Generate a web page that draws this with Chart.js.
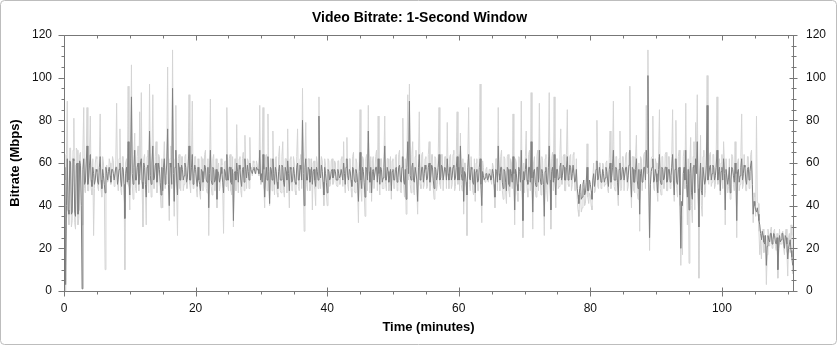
<!DOCTYPE html>
<html><head><meta charset="utf-8">
<script src="https://cdn.jsdelivr.net/npm/chart.js@4.4.1/dist/chart.umd.min.js"></script>
<style>html,body{margin:0;padding:0;background:#fff;}canvas{display:block;}</style>
</head><body>
<canvas id="c" width="839" height="347"></canvas>
<script>
const chartTitle = 'Video Bitrate: 1-Second Window';
const xAxisTitle = 'Time (minutes)';
const yAxisTitle = 'Bitrate (Mbps)';
const sampleStepMinutes = 0.25;
const xMajorTicks = [0, 20, 40, 60, 80, 100];
const yMajorTicks = [0, 20, 40, 60, 80, 100, 120];
const minorTickStep = 5;

// darker trace (Mbps), samples at t = 0, 0.25, 0.5 ... min
const darkRate = [
  52,3,62,36,60,37,61,35,60,38,59,1,62,51,68,53,64,49,55,52,
  56,50,63,48,54,46,55,56,54,57,55,52,58,53,60,49,57,34,58,70,
  45,91,50,66,52,60,55,62,48,58,44,59,75,50,68,53,60,55,57,45,
  47,62,54,76,40,58,95,42,66,45,58,52,57,54,58,53,68,52,64,55,
  57,49,52,47,56,53,58,51,39,66,50,57,52,43,55,53,55,46,56,64,
  52,58,50,33,56,60,51,57,49,58,62,53,56,60,56,57,56,58,57,66,
  55,64,44,58,63,41,57,62,50,56,48,59,52,58,49,56,61,47,57,52,
  55,50,60,52,57,80,40,62,52,57,54,50,57,49,56,82,53,56,45,55,
  46,56,53,57,54,56,52,55,54,57,60,50,62,52,56,49,57,51,55,42,
  65,48,56,44,57,75,51,46,57,52,58,62,50,57,53,68,52,56,54,47,
  57,52,58,53,59,51,63,50,43,70,89,52,60,51,58,42,64,53,58,55,
  57,53,60,54,58,48,57,54,64,53,58,52,57,62,52,58,54,59,53,63,
  58,68,52,42,55,45,64,52,57,50,46,57,52,62,40,54,53,55,53,54,
  53,55,44,56,68,52,58,48,56,47,57,49,55,63,38,55,47,56,66,33,
  52,62,50,58,70,37,57,49,58,66,50,55,35,58,50,68,38,58,64,45,
  57,53,60,54,58,52,63,54,58,55,59,52,48,41,50,44,52,46,58,47,
  50,43,55,52,61,53,55,52,55,53,56,49,60,54,66,52,57,45,60,53,
  57,52,58,54,66,44,57,51,62,48,36,57,52,58,66,101,25,56,62,52,
  55,46,64,50,57,53,58,52,57,54,64,45,62,50,58,20,40,58,66,44,
  38,60,43,59,62,70,30,60,45,58,52,87,54,59,55,58,54,66,56,47,
  58,62,38,57,53,46,58,54,60,33,57,54,62,55,58,50,58,56,61,36,
  40,37,36,31,24,26,22,12,26,23,27,24,26,22,10,26,24,27,20,25,
  15,22,19,12
];
// darker trace, samples in between (t = 0.125, 0.375 ... min)
const darkRateMid = [
  58,40,38,61,36,62,37,59,36,61,40,57,50,60,50,59,52,58,50,57,
  51,58,52,57,50,58,52,58,51,57,52,58,50,57,52,58,50,55,51,52,
  60,55,58,52,58,50,60,51,60,50,58,52,54,60,52,59,51,60,51,58,
  58,50,60,50,60,50,55,58,52,60,52,59,52,60,51,59,52,58,50,59,
  52,58,50,57,51,59,52,58,55,52,58,51,57,56,51,58,51,57,52,52,
  58,51,57,55,52,56,59,52,57,51,57,59,52,57,55,58,55,57,55,52,
  51,57,53,52,56,58,52,55,58,51,56,52,59,51,58,52,55,58,51,58,
  51,58,52,59,52,55,58,52,58,51,58,56,52,58,52,55,59,51,58,51,
  57,52,56,53,57,52,57,53,57,52,55,58,54,57,52,58,52,57,51,56,
  52,58,51,58,52,56,58,56,52,58,51,55,58,51,58,52,58,51,57,56,
  52,57,51,58,52,58,52,57,58,55,54,58,52,58,52,58,52,58,51,59,
  52,58,51,59,52,58,52,58,52,59,52,58,52,55,58,52,58,52,58,52,
  52,55,58,56,51,58,53,58,51,57,56,51,58,50,56,52,55,52,55,52,
  57,50,57,51,55,58,51,57,51,58,50,57,51,55,57,50,58,51,52,56,
  57,52,58,51,53,56,51,58,51,53,57,50,56,51,58,52,56,51,53,57,
  52,58,52,59,52,58,52,59,52,59,51,57,45,48,43,50,45,51,47,52,
  47,52,49,57,52,58,51,57,51,58,52,57,51,58,52,58,51,57,52,58,
  52,58,51,59,52,58,51,57,52,57,55,51,58,52,58,55,50,58,51,57,
  51,57,52,58,52,58,51,57,51,58,52,57,51,57,45,42,55,52,50,57,
  55,46,58,46,55,48,52,47,58,50,59,52,58,52,59,52,58,52,58,56,
  52,55,57,50,58,52,57,51,55,56,51,58,52,59,52,57,52,59,50,42,
  38,39,33,27,28,23,26,21,24,27,22,27,23,25,20,23,27,23,26,22,
  20,24,16
];

// lighter trace (Mbps), samples at t = 0, 0.25, 0.5 ... min
const lightRate = [
  64,0,89,31,67,33,81,29,66,34,65,31,86,46,86,47,82,45,26,60,
  62,47,83,44,60,10,59,52,60,53,61,50,88,47,76,45,63,10,62,96,
  38,106,43,74,46,68,84,93,30,64,31,66,97,44,92,48,70,50,63,39,
  39,70,48,105,33,68,113,35,87,26,64,47,63,50,64,48,92,46,89,50,
  63,44,58,43,62,49,66,46,26,90,45,64,47,39,60,50,59,27,61,86,
  47,64,45,30,62,78,46,63,44,65,73,48,61,72,58,61,55,61,56,87,
  50,86,39,64,83,40,62,75,45,63,44,68,46,70,44,62,76,39,63,47,
  60,45,76,47,64,95,28,79,47,62,49,38,61,40,60,91,48,61,40,59,
  40,61,50,62,51,60,49,61,50,63,70,46,72,47,62,44,65,46,60,32,
  85,42,62,35,64,87,46,42,63,48,66,82,45,62,48,82,47,62,50,43,
  62,48,64,49,66,46,81,44,36,92,97,46,70,45,66,36,84,48,65,50,
  63,49,70,50,64,43,62,50,86,48,64,47,63,79,48,64,50,66,49,84,
  64,74,47,36,60,26,86,47,63,45,42,62,47,97,32,58,51,58,51,57,
  50,58,39,62,86,47,66,43,62,41,64,44,60,83,31,60,42,62,89,25,
  46,75,44,66,93,29,63,44,66,88,45,61,26,64,42,93,29,65,91,39,
  62,49,76,50,64,47,85,49,64,50,65,47,43,35,46,39,48,41,69,41,
  45,38,60,47,80,48,60,49,59,50,61,46,75,50,89,47,63,40,75,48,
  63,47,65,49,96,39,63,46,73,43,28,62,47,65,87,113,19,62,82,47,
  60,42,85,45,63,48,65,47,63,49,85,42,80,44,66,12,17,66,88,31,
  13,72,32,70,79,92,6,73,35,66,47,101,50,65,51,64,50,91,61,45,
  64,70,31,62,49,43,64,50,70,25,62,50,83,50,64,47,63,52,66,32,
  44,82,41,17,15,29,20,3,29,21,30,22,29,19,6,29,22,28,17,29,
  7,27,31,8
];
// lighter trace, samples in between (t = 0.125, 0.375 ... min)
const lightRateMid = [
  52,64,36,67,30,66,32,67,31,64,42,66,48,63,47,64,48,62,48,63,
  49,62,48,63,49,58,51,62,50,63,49,61,52,62,48,63,49,60,50,49,
  62,50,64,48,63,47,52,48,62,47,63,46,54,62,48,63,46,64,47,62,
  60,48,63,50,62,48,55,62,47,62,48,63,47,63,48,62,50,62,48,63,
  48,62,46,63,47,64,48,62,56,49,62,47,62,58,47,62,48,60,49,50,
  62,47,63,55,47,53,62,47,62,47,56,62,48,56,54,60,55,59,54,50,
  62,48,63,47,52,62,47,52,62,46,63,47,63,47,62,46,52,62,47,63,
  47,63,49,62,48,52,63,50,62,47,62,60,48,63,48,52,63,47,62,46,
  62,49,61,50,61,50,61,50,62,49,51,62,50,62,48,63,47,62,47,60,
  48,63,47,62,47,52,63,61,48,63,47,54,62,48,63,50,62,47,63,61,
  48,63,47,64,47,63,50,62,62,52,50,64,47,63,47,62,50,64,48,62,
  48,64,47,64,48,63,47,63,50,64,47,63,48,55,63,48,64,47,64,50,
  47,50,62,60,47,62,50,63,47,62,60,47,63,48,61,52,57,52,57,52,
  60,46,62,47,52,63,47,63,46,63,47,62,48,52,62,46,63,47,50,60,
  63,48,64,47,50,60,47,63,47,52,63,46,62,47,63,50,62,47,52,62,
  48,64,50,63,47,64,50,63,47,64,47,62,38,44,37,47,40,48,44,46,
  40,53,46,61,49,60,48,60,49,60,48,62,48,62,49,63,46,62,47,63,
  47,64,47,65,50,63,47,63,46,60,63,47,64,48,55,50,48,63,48,62,
  47,63,48,63,48,64,47,63,48,63,50,62,48,63,40,35,63,48,50,62,
  60,40,63,38,60,50,55,40,63,44,63,52,64,49,64,48,63,50,62,60,
  48,60,62,46,62,48,63,47,52,60,47,63,48,64,47,63,48,64,44,46,
  35,42,28,24,26,18,26,17,26,28,20,28,21,27,19,22,27,20,26,18,
  25,18,26
];

function toPoints(onStep, between) {
  const pts = [];
  onStep.forEach((v, i) => {
    pts.push({x: i * sampleStepMinutes, y: v});
    if (between[i] !== undefined && i < onStep.length - 1) {
      pts.push({x: (i + 0.5) * sampleStepMinutes, y: between[i]});
    }
  });
  return pts;
}

Chart.defaults.font.family = '"Liberation Sans", Arial, sans-serif';
Chart.defaults.color = '#111';

const frameAndTicks = {
  id: 'frameAndTicks',
  afterDraw(chart) {
    const {ctx, chartArea: a, scales} = chart;
    const xs = scales.x, ys = scales.y;
    const L = Math.round(a.left) + 0.5, R = Math.round(a.right) + 0.5;
    const T = Math.round(a.top) + 0.5, B = Math.round(a.bottom) + 0.5;
    ctx.save();
    ctx.strokeStyle = '#bdbdbd';
    ctx.lineWidth = 1;
    ctx.beginPath();
    ctx.roundRect(0.5, 0.5, 836, 344, 4);
    ctx.stroke();
    ctx.strokeStyle = '#777';
    ctx.beginPath();
    ctx.rect(L, T, R - L, B - T);
    for (let v = xs.min; v <= xs.max + 1e-6; v += minorTickStep) {
      const major = xMajorTicks.includes(v);
      const px = Math.round(xs.getPixelForValue(v)) + 0.5;
      ctx.moveTo(px, B + (major ? 5 : 3));
      ctx.lineTo(px, B - (major ? 4 : 0));
      ctx.moveTo(px, T);
      ctx.lineTo(px, T + (major ? 5 : 3));
    }
    for (let v = ys.min; v <= ys.max + 1e-6; v += minorTickStep) {
      const major = yMajorTicks.includes(v);
      const py = Math.round(ys.getPixelForValue(v)) + 0.5;
      ctx.moveTo(L - (major ? 6 : 3), py);
      ctx.lineTo(L, py);
      ctx.moveTo(R - (major ? 4 : 2), py);
      ctx.lineTo(R + (major ? 4 : 3), py);
    }
    ctx.stroke();
    ctx.restore();
  }
};

new Chart(document.getElementById('c'), {
  type: 'line',
  data: {
    datasets: [
      {label: 'dark', data: toPoints(darkRate, darkRateMid), borderColor: '#808080', borderWidth: 1, pointRadius: 0, tension: 0, order: 0},
      {label: 'light', data: toPoints(lightRate, lightRateMid), borderColor: '#d4d4d4', borderWidth: 1, pointRadius: 0, tension: 0, order: 1}
    ]
  },
  options: {
    responsive: false,
    animation: false,
    events: [],
    layout: {padding: 0},
    plugins: {
      legend: {display: false},
      tooltip: {enabled: false},
      title: {display: true, text: chartTitle, color: '#000',
        font: {size: 14, weight: 'bold'}, padding: {top: 9.6, bottom: 8.6}}
    },
    scales: {
      x: {
        type: 'linear', min: 0, max: 110.8,
        grid: {display: false, drawTicks: false}, border: {display: false},
        ticks: {padding: 10, font: {size: 12}, maxRotation: 0, autoSkip: false, includeBounds: false},
        afterBuildTicks: s => { s.ticks = xMajorTicks.map(v => ({value: v})); },
        afterFit: s => { s.height = 56; },
        title: {display: true, text: xAxisTitle, color: '#000', font: {size: 13, weight: 'bold'}, padding: {top: 0, bottom: 12}}
      },
      y: {
        position: 'left', min: 0, max: 120,
        grid: {display: false, drawTicks: false}, border: {display: false},
        ticks: {padding: 12, font: {size: 12}},
        afterBuildTicks: s => { s.ticks = yMajorTicks.map(v => ({value: v})); },
        afterFit: s => { s.width = 64; },
        title: {display: true, text: yAxisTitle, color: '#000', font: {size: 13, weight: 'bold'}, padding: {top: 8, bottom: 0}}
      },
      y2: {
        position: 'right', min: 0, max: 120,
        grid: {display: false, drawTicks: false}, border: {display: false},
        ticks: {padding: 13, font: {size: 12}},
        afterBuildTicks: s => { s.ticks = yMajorTicks.map(v => ({value: v})); },
        afterFit: s => { s.width = 46; }
      }
    }
  },
  plugins: [frameAndTicks]
});
</script>
</body></html>
